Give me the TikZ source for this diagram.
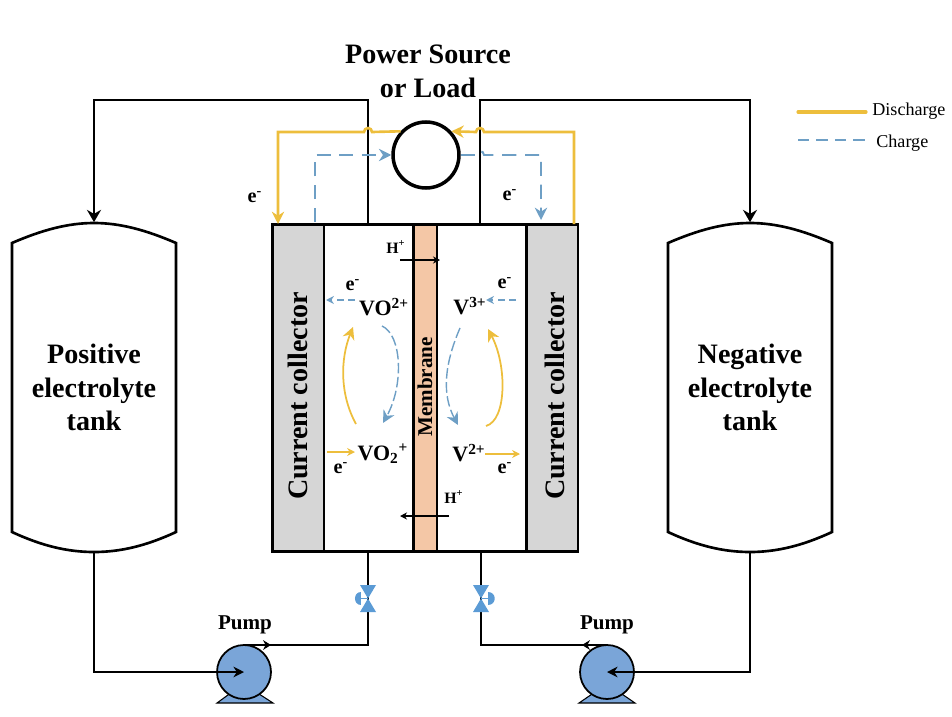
\documentclass[tikz,border=0pt]{standalone}
\usepackage{fontspec}
\setmainfont{Liberation Serif}
\usetikzlibrary{arrows.meta}
\definecolor{dischargecol}{HTML}{EDBE3C}
\definecolor{chargecol}{HTML}{6E9FC5}
\definecolor{pumpcol}{HTML}{7AA5D8}
\definecolor{gatecol}{HTML}{5B9BD5}
\definecolor{membranecol}{HTML}{F4C7A6}
\definecolor{collectorcol}{HTML}{D6D6D6}
\begin{document}
\begin{tikzpicture}
    [x=0.02cm, y=-0.02cm, >={Stealth[length=7pt,width=7pt]},
    lbl/.style={font=\bfseries\fontsize{16}{19.3}\selectfont, align=center, inner sep=0pt},
    ionlbl/.style={font=\bfseries\fontsize{12.5}{14}\selectfont, inner sep=0pt},
    elbl/.style={font=\bfseries\fontsize{11.5}{13}\selectfont, inner sep=0pt},
    hlbl/.style={font=\bfseries\fontsize{9}{10}\selectfont, inner sep=0pt},
    legendlbl/.style={font=\fontsize{10.3}{12}\selectfont, anchor=west, inner sep=0pt},
    tank/.style={minimum width=3.3cm, minimum height=6.6cm, inner sep=0pt, font=\bfseries\fontsize{16}{19.1}\selectfont, align=center},
    wire/.style={line width=1.3pt},
    dis/.style={draw=dischargecol, line width=1.5pt},
    chg/.style={draw=chargecol, line width=1.1pt, dash pattern=on 8pt off 5pt},
    panel/.style={draw, line width=1.7pt, minimum height=6.56cm, inner sep=0pt},
    pump/.style={circle, draw, fill=pumpcol, line width=1pt, minimum size=1.08cm, inner sep=0pt},
    gate/.style={fill=gatecol}]
    \useasboundingbox (0,0) rectangle (952,716);
    % cell
    \node[panel, minimum width=6.12cm] (cell) at (425,388) {};
    \node[panel, fill=collectorcol, minimum width=1.04cm] (ccl) at (298,388) {};
    \node[panel, fill=collectorcol, minimum width=1.04cm] (ccr) at (552,388) {};
    \node[panel, fill=membranecol, minimum width=0.48cm] (mem) at (425,388) {};
    \node[lbl, rotate=90] (ccltext) at (298,396) {Current collector};
    \node[lbl, rotate=90] (ccrtext) at (555,396) {Current collector};
    \node[ionlbl, rotate=90, font=\bfseries\fontsize{12}{14}\selectfont] (memtext) at (425,387) {Membrane};
    % tanks
    \foreach \x in {94,750}
        \draw[line width=1.5pt, shift={(\x,0)}] (-82,243) .. controls (-52,230) and (-26,223) .. (0,223)
            .. controls (26,223) and (52,230) .. (82,243) -- (82,532)
            .. controls (52,546) and (26,552) .. (0,552)
            .. controls (-26,552) and (-52,546) .. (-82,532) -- cycle;
    \node[tank] (ptank) at (94,387.5) {Positive\\electrolyte\\tank};
    \node[tank] (ntank) at (750,387.5) {Negative\\electrolyte\\tank};
    % source
    \node[circle, draw, line width=2pt, minimum size=1.32cm, inner sep=0pt] (source) at (426,155) {};
    \node[lbl] (sourcetext) at (428,71) {Power Source\\or Load};
    % pipes
    \coordinate (pl) at (368,224);
    \coordinate (pr) at (480,224);
    \coordinate (ptopl) at (368,100);
    \coordinate (ptopr) at (480,100);
    \draw[->, wire, >={Stealth[length=7pt,width=8pt]}] (pl) -- (ptopl) -| (ptank.north);
    \draw[->, wire, >={Stealth[length=7pt,width=8pt]}] (pr) -- (ptopr) -| (ntank.north);
    % external discharge
    \coordinate (dlc) at (278,132);
    \coordinate (dld) at (278,224);
    \coordinate (dr) at (574,224);
    \coordinate (drc) at (574,132);
    \draw[->, dis] (source.137) -- (372,132) arc (0:-180:4) -- (dlc) -- (dld);
    \draw[->, dis] (dr) -- (drc) -- (484,132) arc (0:-180:4) -- (source.43);
    % external charge
    \coordinate (cs) at (315,222);
    \coordinate (csc) at (315,155);
    \coordinate (crc) at (541,155);
    \coordinate (cre) at (541,220);
    \draw[->, chg] (cs) -- (csc) -- (source.west);
    \draw[->, chg] (source.east) -- (476,155) arc (-180:0:4) -- (crc) -- (cre);
    \node[elbl] (el1) at (255,197) {e\textsuperscript{-}};
    \node[elbl] (el2) at (510,195) {e\textsuperscript{-}};
    % protons
    \coordinate (h1s) at (400,260);
    \coordinate (h1e) at (440,260);
    \coordinate (h2s) at (449,516);
    \coordinate (h2e) at (400,516);
    \draw[->, line width=0.9pt, >={Stealth[length=4pt,width=4pt]}] (h1s) -- (h1e);
    \draw[->, line width=0.9pt, >={Stealth[length=4pt,width=4pt]}] (h2s) -- (h2e);
    \node[hlbl] (h1) at (396,247) {H\textsuperscript{+}};
    \node[hlbl] (h2) at (454,497) {H\textsuperscript{+}};
    % ions
    \node[ionlbl] (vo) at (384,307) {VO\textsuperscript{2+}};
    \node[ionlbl] (vt) at (470,306) {V\textsuperscript{3+}};
    \node[ionlbl] (voo) at (383,454) {VO\textsubscript{2}\textsuperscript{+}};
    \node[ionlbl] (vd) at (469,453) {V\textsuperscript{2+}};
    \node[elbl] (ea) at (353,285) {e\textsuperscript{-}};
    \node[elbl] (eb) at (505,283) {e\textsuperscript{-}};
    \node[elbl] (ec) at (341,468) {e\textsuperscript{-}};
    \node[elbl] (ed) at (505,468) {e\textsuperscript{-}};
    \coordinate (a1) at (355,300);
    \coordinate (a2) at (326,300);
    \coordinate (b1) at (516,300);
    \coordinate (b2) at (486,300);
    \coordinate (c1) at (327,452);
    \coordinate (c2) at (355,452);
    \coordinate (d1) at (485,454);
    \coordinate (d2) at (520,454);
    \draw[->, chg, dash pattern=on 4pt off 2.5pt, >={Stealth[length=4.5pt,width=4.5pt]}] (a1) -- (a2);
    \draw[->, chg, dash pattern=on 4pt off 2.5pt, >={Stealth[length=4.5pt,width=4.5pt]}] (b1) -- (b2);
    \draw[->, dis, line width=1pt, >={Stealth[length=4.5pt,width=4.5pt]}] (c1) -- (c2);
    \draw[->, dis, line width=1pt, >={Stealth[length=4.5pt,width=4.5pt]}] (d1) -- (d2);
    % reactions
    \coordinate (r1s) at (356,424);
    \coordinate (r1e) at (353,327);
    \coordinate (r2s) at (382,326);
    \coordinate (r2e) at (383,423);
    \coordinate (r3s) at (460,328);
    \coordinate (r3e) at (458,425);
    \coordinate (r4s) at (486,426);
    \coordinate (r4e) at (488,329);
    \draw[->, dis, line width=1pt] (r1s) .. controls (340,395) and (340,360) .. (r1e);
    \draw[->, chg, dash pattern=on 6pt off 2pt, line width=0.8pt] (r2s) .. controls (402,335) and (404,385) .. (r2e);
    \draw[->, chg, dash pattern=on 6pt off 2pt, line width=0.8pt] (r3s) .. controls (444,365) and (442,395) .. (r3e);
    \draw[->, dis, line width=1pt] (r4s) .. controls (507,420) and (507,365) .. (r4e);
    % pumps
    \filldraw[fill=pumpcol, line width=0.6pt] (217,703) -- (232,692) -- (256,692) -- (273,703) -- cycle;
    \filldraw[fill=pumpcol, line width=0.6pt] (579,703) -- (595,692) -- (619,692) -- (635,703) -- cycle;
    \node[pump] (pumpl) at (244,672) {};
    \node[pump] (pumpr) at (607,672) {};
    \node[ionlbl, font=\bfseries\fontsize{12}{14}\selectfont] (pumpltext) at (245,625) {Pump};
    \node[ionlbl, font=\bfseries\fontsize{12}{14}\selectfont] (pumprtext) at (607,625) {Pump};
    \draw[->, wire, >={Stealth[length=6pt,width=6pt]}] (ptank.south) |- (pumpl.center);
    \draw[->, wire, >={Stealth[length=6pt,width=6pt]}] (ntank.south) |- (pumpr.center);
    % valves
    \coordinate (vl) at (368,598);
    \coordinate (vr) at (481,598);
    \coordinate (bl) at (368,552);
    \coordinate (br) at (481,552);
    \coordinate (kl) at (368,645);
    \coordinate (kr) at (481,645);
    \coordinate (tl) at (271,645);
    \coordinate (tr) at (582,645);
    \draw[wire] (bl) -- (vl) -- (kl) -- (pumpl.north |- kl);
    \draw[wire] (br) -- (vr) -- (kr) -- (pumpr.north |- kr);
    \draw[->, wire, >={Stealth[length=4.5pt,width=5.5pt]}] (pumpl.north |- kl) -- (tl);
    \draw[->, wire, >={Stealth[length=4.5pt,width=5.5pt]}] (pumpr.north |- kr) -- (tr);
    \foreach \x/\d in {368/-1,481/1} {
        \fill[gate] (\x-8,585) -- (\x+8,585) -- (\x-8,612) -- (\x+8,612) -- cycle;
        \draw[gatecol, line width=0.6pt] (\x,598.5) -- (\x+\d*7,598.5);
        \fill[gate] (\x+\d*7,592) .. controls (\x+\d*15.5,592) and (\x+\d*15.5,605) .. (\x+\d*7,605) -- cycle;
    }
    % legend
    \coordinate (ld1) at (798,112);
    \coordinate (ld2) at (866,112);
    \coordinate (lc1) at (798,140);
    \coordinate (lc2) at (866,140);
    \draw[dis, line cap=round, line width=1.8pt] (ld1) -- (ld2);
    \draw[chg, line width=1.5pt, dash pattern=on 6.5pt off 4pt] (lc1) -- (lc2);
    \node[legendlbl] (discharge) at (872,111) {Discharge};
    \node[legendlbl] (charge) at (876,143) {Charge};
\end{tikzpicture}
\end{document}
